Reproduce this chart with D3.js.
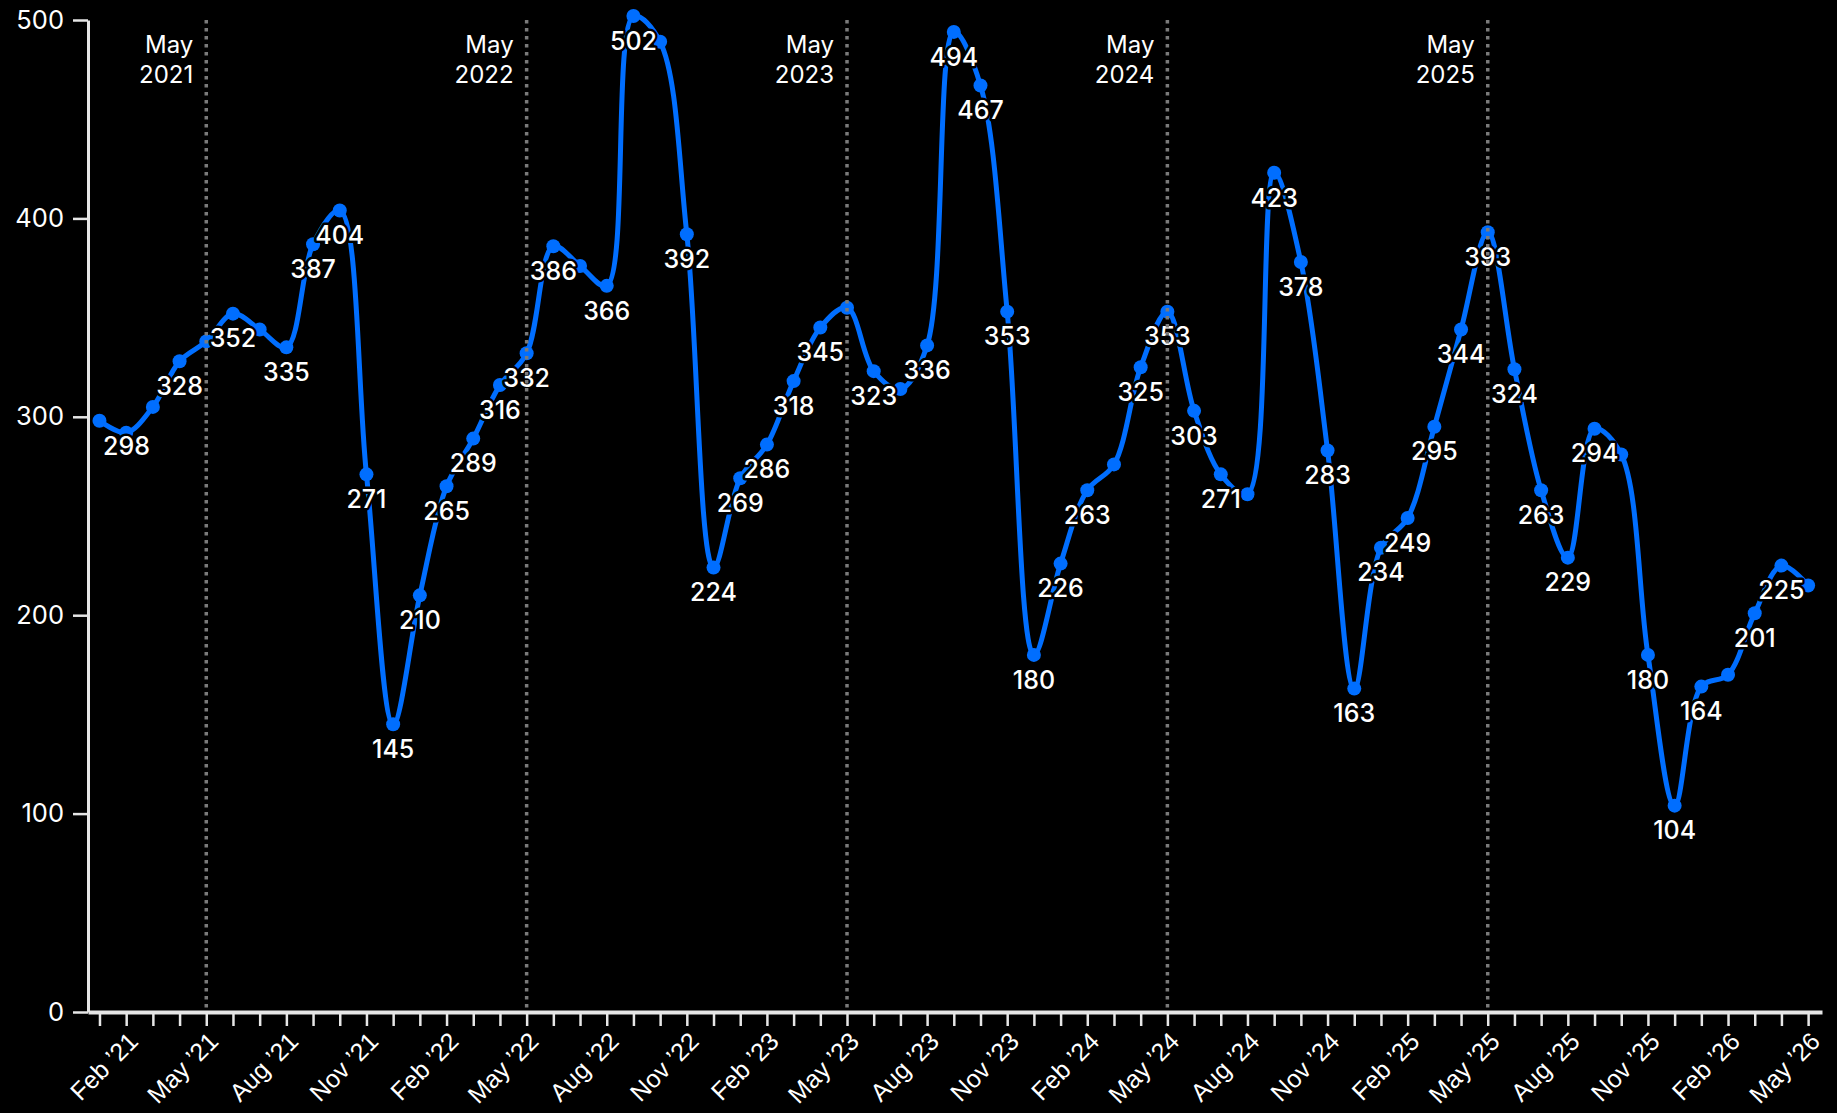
<!DOCTYPE html>
<html>
<head>
<meta charset="utf-8">
<script src="https://cdn.jsdelivr.net/npm/d3@7"></script>
<style>
  html, body { margin: 0; background: #000; }
  svg { display: block; }
</style>
</head>
<body>
<svg id="chart" width="1837" height="1113"></svg>
<script>
// Monthly series, Jan 2021 – May 2026
const months = [
  "2021-01","2021-02","2021-03","2021-04","2021-05","2021-06","2021-07","2021-08","2021-09","2021-10","2021-11","2021-12",
  "2022-01","2022-02","2022-03","2022-04","2022-05","2022-06","2022-07","2022-08","2022-09","2022-10","2022-11","2022-12",
  "2023-01","2023-02","2023-03","2023-04","2023-05","2023-06","2023-07","2023-08","2023-09","2023-10","2023-11","2023-12",
  "2024-01","2024-02","2024-03","2024-04","2024-05","2024-06","2024-07","2024-08","2024-09","2024-10","2024-11","2024-12",
  "2025-01","2025-02","2025-03","2025-04","2025-05","2025-06","2025-07","2025-08","2025-09","2025-10","2025-11","2025-12",
  "2026-01","2026-02","2026-03","2026-04","2026-05"
];
const values = [
  298, 292, 305, 328, 338, 352, 344, 335, 387, 404, 271, 145,
  210, 265, 289, 316, 332, 386, 376, 366, 502, 489, 392, 224,
  269, 286, 318, 345, 355, 323, 314, 336, 494, 467, 353, 180,
  226, 263, 276, 325, 353, 303, 271, 261, 423, 378, 283, 163,
  234, 249, 295, 344, 393, 324, 263, 229, 294, 281, 180, 104,
  164, 170, 201, 225, 215
];
// Points whose value label is left off to avoid crowding
const unlabeledMonths = ["2021-02","2021-03","2021-05","2021-07","2022-07","2022-10","2023-05",
                         "2023-07","2024-03","2024-08","2025-10","2026-02","2026-05"];
// Months that carry an x tick label
const labeledTickMonths = ["Feb","May","Aug","Nov"];
// Vertical marker lines with their captions
const markerMonths = ["2021-05","2022-05","2023-05","2024-05","2025-05"];
const yTicks = [0, 100, 200, 300, 400, 500];

const parseMonth = d3.timeParse("%Y-%m");
const fmtTick = d3.timeFormat("%b \u2019%y");
const fmtShort = d3.timeFormat("%b");
const fmtYear = d3.timeFormat("%Y");

const data = months.map((m, i) => ({ i, m, date: parseMonth(m), v: values[i] }));

const svg = d3.select("#chart");
const plotLeft = 88, plotRight = 1822, plotTop = 20, plotBottom = 1012;

const x = d3.scaleLinear().domain([-0.43, months.length - 1 + 0.52]).range([plotLeft, plotRight]);
const y = d3.scaleLinear().domain([0, 500]).range([plotBottom, plotTop]);

svg.append("rect").attr("width", 1837).attr("height", 1113).attr("fill", "#000");

// Y axis
const yAxis = svg.append("g")
  .attr("transform", `translate(${plotLeft},0)`)
  .call(d3.axisLeft(y).tickValues(yTicks).tickSize(15).tickSizeOuter(0).tickPadding(9));
yAxis.select(".domain").attr("stroke", "#e6e6e6").attr("stroke-width", 3);
yAxis.selectAll(".tick line").attr("stroke", "#e6e6e6").attr("stroke-width", 2.5);
yAxis.selectAll(".tick text")
  .attr("fill", "#fff")
  .attr("font-family", "Inter, 'Noto Sans', sans-serif")
  .attr("font-size", 25.5);

// X axis, one tick per month
const xAxis = svg.append("g")
  .attr("transform", `translate(0,${plotBottom})`)
  .call(d3.axisBottom(x)
    .tickValues(d3.range(months.length))
    .tickSize(14).tickSizeOuter(0)
    .tickFormat(i => labeledTickMonths.includes(fmtShort(data[i].date)) ? fmtTick(data[i].date) : ""));
xAxis.select(".domain").attr("stroke", "#e6e6e6").attr("stroke-width", 4);
xAxis.selectAll(".tick line").attr("stroke", "#e6e6e6").attr("stroke-width", 2.5);
xAxis.selectAll(".tick text")
  .attr("fill", "#fff")
  .attr("font-family", "'Liberation Sans', Arial, sans-serif")
  .attr("font-size", 25)
  .attr("text-anchor", "end")
  .attr("x", 0).attr("y", 0).attr("dy", 0)
  .attr("transform", "translate(13,31) rotate(-45)");

// Series line
const line = d3.line()
  .x(d => x(d.i))
  .y(d => y(d.v))
  .curve(d3.curveCatmullRom.alpha(0.5));

const blue = "#006eff";
svg.append("path")
  .datum(data)
  .attr("fill", "none")
  .attr("stroke", blue)
  .attr("stroke-width", 5)
  .attr("stroke-linejoin", "round")
  .attr("d", line);

svg.append("g").selectAll("circle")
  .data(data)
  .join("circle")
  .attr("cx", d => x(d.i))
  .attr("cy", d => y(d.v))
  .attr("r", 7)
  .attr("fill", blue);

// Value labels below points, kept clear of the y axis
const labels = svg.append("g")
  .attr("font-family", "Inter, 'Noto Sans', sans-serif")
  .attr("font-size", 25)
  .attr("font-weight", 500)
  .selectAll("text")
  .data(data.filter(d => !unlabeledMonths.includes(d.m)))
  .join("text")
  .attr("x", d => x(d.i))
  .attr("y", d => y(d.v) + 25)
  .attr("dy", "0.35em")
  .attr("text-anchor", "middle")
  .attr("fill", "#fff")
  .attr("stroke", "#000")
  .attr("stroke-width", 5)
  .attr("stroke-linejoin", "round")
  .attr("paint-order", "stroke")
  .text(d => d.v);
labels.each(function(d) {
  const w = this.getComputedTextLength();
  const cx = x(d.i);
  const minLeft = plotLeft + 15;
  if (cx - w / 2 < minLeft) d3.select(this).attr("x", minLeft + w / 2);
});

// Dotted yearly marker lines with captions
const markers = svg.append("g");
markerMonths.forEach(m => {
  const d = data.find(p => p.m === m);
  const mx = x(d.i);
  markers.append("line")
    .attr("x1", mx).attr("x2", mx)
    .attr("y1", plotTop).attr("y2", plotBottom)
    .attr("stroke", "#7a7a7a")
    .attr("stroke-width", 3.5)
    .attr("stroke-dasharray", "3.5,4.5");
  const cap = markers.append("text")
    .attr("text-anchor", "end")
    .attr("fill", "#fff")
    .attr("font-family", "Inter, 'Noto Sans', sans-serif")
    .attr("font-size", 24);
  cap.append("tspan").attr("x", mx - 13).attr("y", 53).text(fmtShort(d.date));
  cap.append("tspan").attr("x", mx - 13).attr("y", 83).text(fmtYear(d.date));
});
</script>
</body>
</html>
